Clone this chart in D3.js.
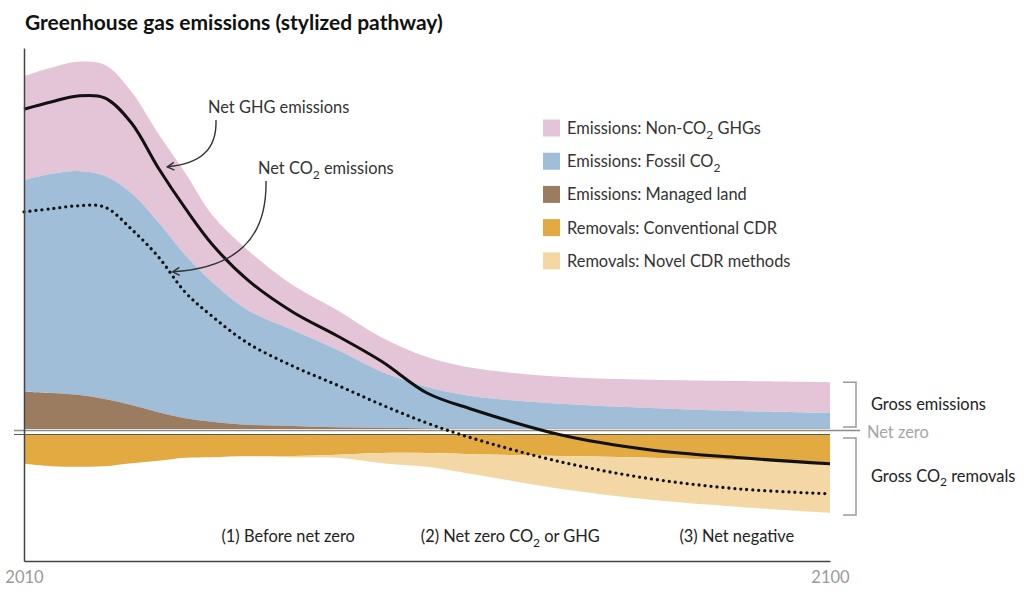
<!DOCTYPE html>
<html>
<head>
<meta charset="utf-8">
<script src="https://cdn.jsdelivr.net/npm/d3@7"></script>
<style>
  body { margin: 0; background: #fff; }
  svg { font-family: Lato, "Open Sans", sans-serif; }
</style>
</head>
<body>
<div id="chart"></div>
<script>
// data (GtCO2e-like units)
const years = [2010, 2013, 2016, 2019, 2022, 2025, 2028, 2031, 2035, 2040, 2045, 2050, 2055, 2060, 2070, 2080, 2090, 2100];
const managedLand = [6.7, 6.5, 6.2, 5.5, 4.5, 3.3, 2.3, 1.7, 1.2, 1.0, 0.8, 0.7, 0.6, 0.6, 0.6, 0.6, 0.6, 0.6];
const fossilCO2 = [35.3, 36.5, 37.3, 37.2, 35.3, 31.7, 27.2, 23.3, 19.1, 16.0, 12.9, 9.3, 6.9, 5.4, 4.1, 3.4, 2.9, 2.6];
const nonCO2 = [17.3, 17.7, 18.2, 18.5, 16.9, 14.7, 13.7, 11.2, 10.0, 7.5, 6.6, 5.7, 5.0, 4.7, 4.5, 4.7, 5.0, 5.1];
const conventionalCDR = [5.3, 5.7, 5.8, 5.7, 5.2, 4.8, 4.3, 4.2, 4.0, 4.0, 3.8, 3.5, 3.5, 3.7, 4.0, 4.3, 4.7, 5.0];
const novelCDR = [0, 0, 0, 0, 0, 0, 0, 0, 0.1, 0.2, 0.5, 1.7, 2.3, 3.3, 5.5, 7.0, 7.8, 8.5];
const netGHG = [53.8, 55.0, 56.0, 55.7, 51.5, 44.0, 37.3, 31.3, 25.3, 20.0, 16.0, 11.7, 6.5, 3.8, -0.5, -3.0, -4.3, -5.3];
const netCO2 = [36.7, 37.2, 37.7, 37.5, 33.8, 29.2, 23.3, 19.3, 14.8, 11.0, 7.8, 4.5, 1.5, -1.0, -5.0, -7.8, -9.5, -10.3];

const legendLabels = [
  ["Emissions: Non-CO", "2", " GHGs"],
  ["Emissions: Fossil CO", "2", ""],
  ["Emissions: Managed land", "", ""],
  ["Removals: Conventional CDR", "", ""],
  ["Removals: Novel CDR methods", "", ""]
];
const phases = [
  { year: 2039.5, label: ["(1) Before net zero", "", ""] },
  { year: 2064.3, label: ["(2) Net zero CO", "2", " or GHG"] },
  { year: 2089.6, label: ["(3) Net negative", "", ""] }
];
const yearTicks = [2010, 2100];

(function () {
  const width = 1024;
  const height = 593;
  const colors = ["#e4c4d7", "#a1bed9", "#9c7c60", "#e2aa40", "#f3d8a5"];
  const fs = "16.4px";
  const sub = "12px";

  const svg = d3
    .select("#chart")
    .append("svg")
    .attr("width", width)
    .attr("height", height);

  const x = d3.scaleLinear().domain([2010, 2100]).range([24, 830]);
  const y = d3.scaleLinear().domain([-21.5, 64]).range([561, 48]);

  const rows = years.map((yr, i) => ({
    year: yr,
    land: managedLand[i],
    fossil: fossilCO2[i],
    nonco2: nonCO2[i],
    conv: conventionalCDR[i],
    novel: novelCDR[i],
    ghg: netGHG[i],
    co2: netCO2[i]
  }));

  const curve = d3.curveCatmullRom.alpha(0.5);

  // stacked emissions (positive) and removals (negative)
  const bands = [
    { lo: (d) => d.land + d.fossil, hi: (d) => d.land + d.fossil + d.nonco2, c: colors[0] },
    { lo: (d) => d.land, hi: (d) => d.land + d.fossil, c: colors[1] },
    { lo: () => 0, hi: (d) => d.land, c: colors[2] },
    { lo: () => 0, hi: (d) => -d.conv, c: colors[3] },
    { lo: (d) => -d.conv, hi: (d) => -d.conv - d.novel, c: colors[4] }
  ];

  svg
    .append("g")
    .selectAll("path")
    .data(bands)
    .enter()
    .append("path")
    .attr("fill", (b) => b.c)
    .attr("d", (b) =>
      d3
        .area()
        .curve(curve)
        .x((d) => x(d.year))
        .y0((d) => y(b.lo(d)))
        .y1((d) => y(b.hi(d)))(rows)
    );

  // net zero double line
  const y0 = y(0);
  svg.append("line").attr("x1", 14).attr("x2", 860).attr("y1", y0).attr("y2", y0)
    .attr("stroke", "#fff").attr("stroke-width", 6);
  svg.append("line").attr("x1", 14).attr("x2", 860).attr("y1", y0 - 1.5).attr("y2", y0 - 1.5)
    .attr("stroke", "#8c8c8c").attr("stroke-width", 1.4);
  svg.append("line").attr("x1", 14).attr("x2", 830).attr("y1", y0 + 2.5).attr("y2", y0 + 2.5)
    .attr("stroke", "#5a5a5a").attr("stroke-width", 1.2);

  // net lines
  const line = (key) =>
    d3.line().curve(curve).x((d) => x(d.year)).y((d) => y(d[key]))(rows);

  svg.append("path")
    .attr("d", line("co2"))
    .attr("fill", "none")
    .attr("stroke", "#111")
    .attr("stroke-width", 3.3)
    .attr("stroke-linecap", "round")
    .attr("stroke-dasharray", "0 6");

  svg.append("path")
    .attr("d", line("ghg"))
    .attr("fill", "none")
    .attr("stroke", "#111")
    .attr("stroke-width", 3);

  // axes
  svg.append("g")
    .attr("transform", `translate(${x(2010)},0)`)
    .call(d3.axisLeft(y).ticks(0).tickSizeOuter(0))
    .call((g) => g.select(".domain").attr("stroke", "#444").attr("stroke-width", 1.5));

  svg.append("g")
    .attr("transform", `translate(0,${y(-21.5)})`)
    .call(d3.axisBottom(x).tickValues(yearTicks).tickFormat(d3.format("d")).tickSize(0).tickSizeOuter(0).tickPadding(10))
    .call((g) => g.select(".domain").attr("stroke", "#444").attr("stroke-width", 1.5))
    .call((g) =>
      g.selectAll(".tick text")
        .attr("font-family", "Lato, sans-serif")
        .attr("font-size", "16.5px")
        .attr("fill", "#9a9a9a")
    );

  // helper for text with a subscript
  function richText(sel, parts, size) {
    sel.append("tspan").text(parts[0]);
    if (parts[1]) {
      sel.append("tspan").attr("dy", 4.5).attr("font-size", size).text(parts[1]);
      sel.append("tspan").attr("dy", -4.5).text(parts[2]);
    }
  }

  // title
  svg.append("text")
    .attr("x", 25)
    .attr("y", 30)
    .attr("font-size", "21px")
    .attr("font-weight", "bold")
    .attr("fill", "#111")
    .text("Greenhouse gas emissions (stylized pathway)");

  // legend
  const legend = svg.append("g").attr("transform", "translate(543,128)");
  const items = legend
    .selectAll(".legend-item")
    .data(legendLabels)
    .enter()
    .append("g")
    .attr("class", "legend-item")
    .attr("transform", (d, i) => `translate(0,${i * 33.2})`);
  items.append("rect")
    .attr("y", -8.5)
    .attr("width", 17)
    .attr("height", 17)
    .attr("fill", (d, i) => colors[i]);
  items.append("text")
    .attr("x", 24)
    .attr("y", 6)
    .attr("font-size", fs)
    .attr("fill", "#333")
    .each(function (d) { richText(d3.select(this), d, sub); });

  // phase labels
  svg.append("g")
    .selectAll("text")
    .data(phases)
    .enter()
    .append("text")
    .attr("x", (d) => x(d.year))
    .attr("y", 542)
    .attr("text-anchor", "middle")
    .attr("font-size", fs)
    .attr("fill", "#222")
    .each(function (d) { richText(d3.select(this), d.label, sub); });

  // annotations
  const ann = svg.append("g");
  ann.append("text").attr("x", 208).attr("y", 113).attr("font-size", fs).attr("fill", "#333")
    .text("Net GHG emissions");
  const co2Label = ann.append("text").attr("x", 258).attr("y", 174).attr("font-size", fs).attr("fill", "#333");
  richText(co2Label, ["Net CO", "2", " emissions"], sub);

  svg.append("defs").append("marker")
    .attr("id", "arrow")
    .attr("viewBox", "0 0 10 10")
    .attr("refX", 8).attr("refY", 5)
    .attr("markerWidth", 7).attr("markerHeight", 7)
    .attr("orient", "auto")
    .append("path")
    .attr("d", "M1,1 L8,5 L1,9")
    .attr("fill", "none")
    .attr("stroke", "#333")
    .attr("stroke-width", 1.5);

  const tipGHG = [x(2026.0), y(44.2)];
  const tipCO2 = [x(2026.6), y(26.7)];
  ann.append("path")
    .attr("d", `M216,120 C217,150 200,164 ${tipGHG[0]},${tipGHG[1]}`)
    .attr("fill", "none").attr("stroke", "#333").attr("stroke-width", 1.4)
    .attr("marker-end", "url(#arrow)");
  ann.append("path")
    .attr("d", `M266,181 C267,240 235,268 ${tipCO2[0]},${tipCO2[1]}`)
    .attr("fill", "none").attr("stroke", "#333").attr("stroke-width", 1.4)
    .attr("marker-end", "url(#arrow)");

  // brackets
  const last = rows[rows.length - 1];
  const bx = 856;
  const brackets = [
    { top: y(last.land + last.fossil + last.nonco2), bottom: y0 - 5, label: ["Gross emissions", "", ""] },
    { top: y0 + 6, bottom: y(-last.conv - last.novel) + 2, label: ["Gross CO", "2", " removals"] }
  ];
  const br = svg.append("g").selectAll("g").data(brackets).enter().append("g");
  br.append("path")
    .attr("d", (d) => `M${bx - 13},${d.top} H${bx} V${d.bottom} H${bx - 13}`)
    .attr("fill", "none").attr("stroke", "#9a9a9a").attr("stroke-width", 1.5);
  br.append("text")
    .attr("x", 871)
    .attr("y", (d) => (d.top + d.bottom) / 2 + 5)
    .attr("font-size", fs)
    .attr("fill", "#222")
    .each(function (d) { richText(d3.select(this), d.label, sub); });

  svg.append("text")
    .attr("x", 867).attr("y", y0 + 6)
    .attr("font-size", fs).attr("fill", "#a5a5a5")
    .text("Net zero");
})();
</script>
</body>
</html>
